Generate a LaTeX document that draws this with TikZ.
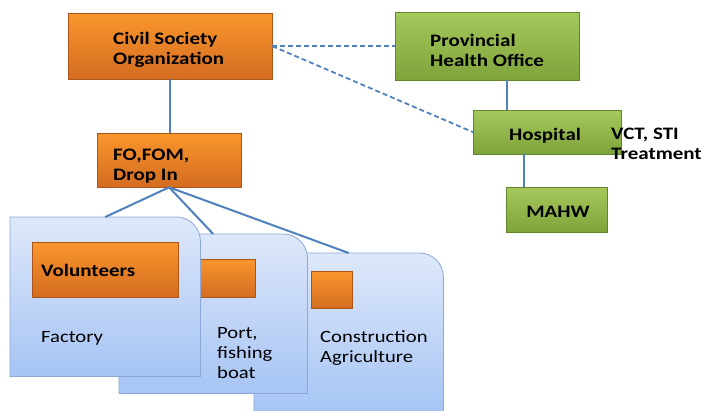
\documentclass[tikz,border=0pt]{standalone}
\usepackage{fontspec}
\setmainfont{Carlito}[FakeStretch=1.2]
\usetikzlibrary{shadows}
\definecolor{orTop}{RGB}{250,150,45}
\definecolor{orBot}{RGB}{212,108,32}
\definecolor{grTop}{RGB}{166,201,92}
\definecolor{grBot}{RGB}{126,163,58}
\definecolor{cdTop}{RGB}{222,232,250}
\definecolor{cdBot}{RGB}{166,196,244}
\definecolor{cdLine}{RGB}{140,168,214}
\definecolor{link}{RGB}{79,129,189}
\tikzset{
  x=1pt,y=-1pt,
  obox/.style={rectangle, top color=orTop, bottom color=orBot, draw=orBot!80!black, line width=0.3pt,
    drop shadow={shadow xshift=1pt,shadow yshift=-1pt,opacity=0.35},
    font=\fontsize{17.5}{20}\selectfont\bfseries, align=left, inner sep=0pt, anchor=north west},
  gbox/.style={obox, top color=grTop, bottom color=grBot, draw=grBot!80!black},
  card/.style={top color=cdTop, bottom color=cdBot, draw=cdLine, line width=0.8pt},
  cardnode/.style={rectangle, inner sep=0pt, anchor=north west},
  ctext/.style={font=\fontsize{17.2}{20}\selectfont, align=left, anchor=west, inner sep=0pt},
  btext/.style={font=\fontsize{17.5}{20}\selectfont\bfseries, align=left, anchor=west, inner sep=0pt},
  solidlink/.style={draw=link, line width=2pt},
  dashlink/.style={draw=link, line width=1.8pt, dash pattern=on 5pt off 3pt},
}
\begin{document}
\begin{tikzpicture}
\useasboundingbox (0,0) rectangle (704,410);
\fill[white] (0,0) rectangle (704,410);
\begin{scope}
\clip (0,0) rectangle (704,410);
% top boxes
\node[obox, minimum width=204pt, minimum height=66pt] (cso) at (68,13) {};
\node[btext] (csotxt) at (113,50) {Civil Society\\Organization};
\node[gbox, minimum width=184pt, minimum height=68pt] (pho) at (395,12) {};
\node[btext] (photxt) at (430,50) {Provincial\\Health Office};
\node[obox, minimum width=144pt, minimum height=54pt] (fo) at (97,133) {};
\node[btext] (fotxt) at (113,166) {FO,FOM,\\Drop In};
\node[gbox, minimum width=148pt, minimum height=44pt] (hosp) at (473,110) {};
\node[btext, anchor=center] (hosptxt) at (545,136) {Hospital};
\node[gbox, minimum width=101pt, minimum height=45pt] (mahw) at (506,187) {};
\node[btext, anchor=center] (mahwtxt) at (558,212) {MAHW};
\node[btext] (vct) at (611,144) {VCT, STI\\Treatment};

% cards (back to front)
\node[cardnode, minimum width=189pt, minimum height=160pt] (c3) at (254,253) {};
\node[cardnode, minimum width=188pt, minimum height=159pt] (c2) at (119,234) {};
\node[cardnode, minimum width=190pt, minimum height=159pt] (c1) at (10,217) {};

\shade[card] (c3.south west) -- (c3.north west) [rounded corners=24pt]-- (c3.north east) [sharp corners]-- (c3.south east) -- cycle;
\node[obox, minimum width=41pt, minimum height=37pt] (o3) at (311,271) {};
\node[ctext] (t3) at (320,348) {Construction\\Agriculture};

\shade[card] (c2.south west) -- (c2.north west) [rounded corners=24pt]-- (c2.north east) [sharp corners]-- (c2.south east) -- cycle;
\node[obox, minimum width=56pt, minimum height=38pt] (o2) at (199,259) {};
\node[ctext] (t2) at (217,353) {Port,\\fishing\\boat};

\shade[card] (c1.south west) -- (c1.north west) [rounded corners=24pt]-- (c1.north east) [sharp corners]-- (c1.south east) -- cycle;
\node[obox, minimum width=146pt, minimum height=55pt] (vol) at (32,242) {};
\node[btext] (voltxt) at (41,270) {Volunteers};
\node[ctext] (t1) at (41,338) {Factory};
\end{scope}

% connectors
\draw[dashlink] (cso.east) -- (pho.west);
\draw[dashlink] (cso.east) -- (hosp.west);
\draw[solidlink] (cso.south) -- (fo.north -| cso.south);
\draw[solidlink] ([xshift=34pt]hosp.north west |- pho.south) -- ([xshift=34pt]hosp.north west);
\draw[solidlink] ([xshift=18pt]mahw.north west |- hosp.south) -- ([xshift=18pt]mahw.north west);
\draw[solidlink] (fo.south) -- (c1.north);
\draw[solidlink] (fo.south) -- (c2.north);
\draw[solidlink] (fo.south) -- (c3.north);
\end{tikzpicture}
\end{document}
